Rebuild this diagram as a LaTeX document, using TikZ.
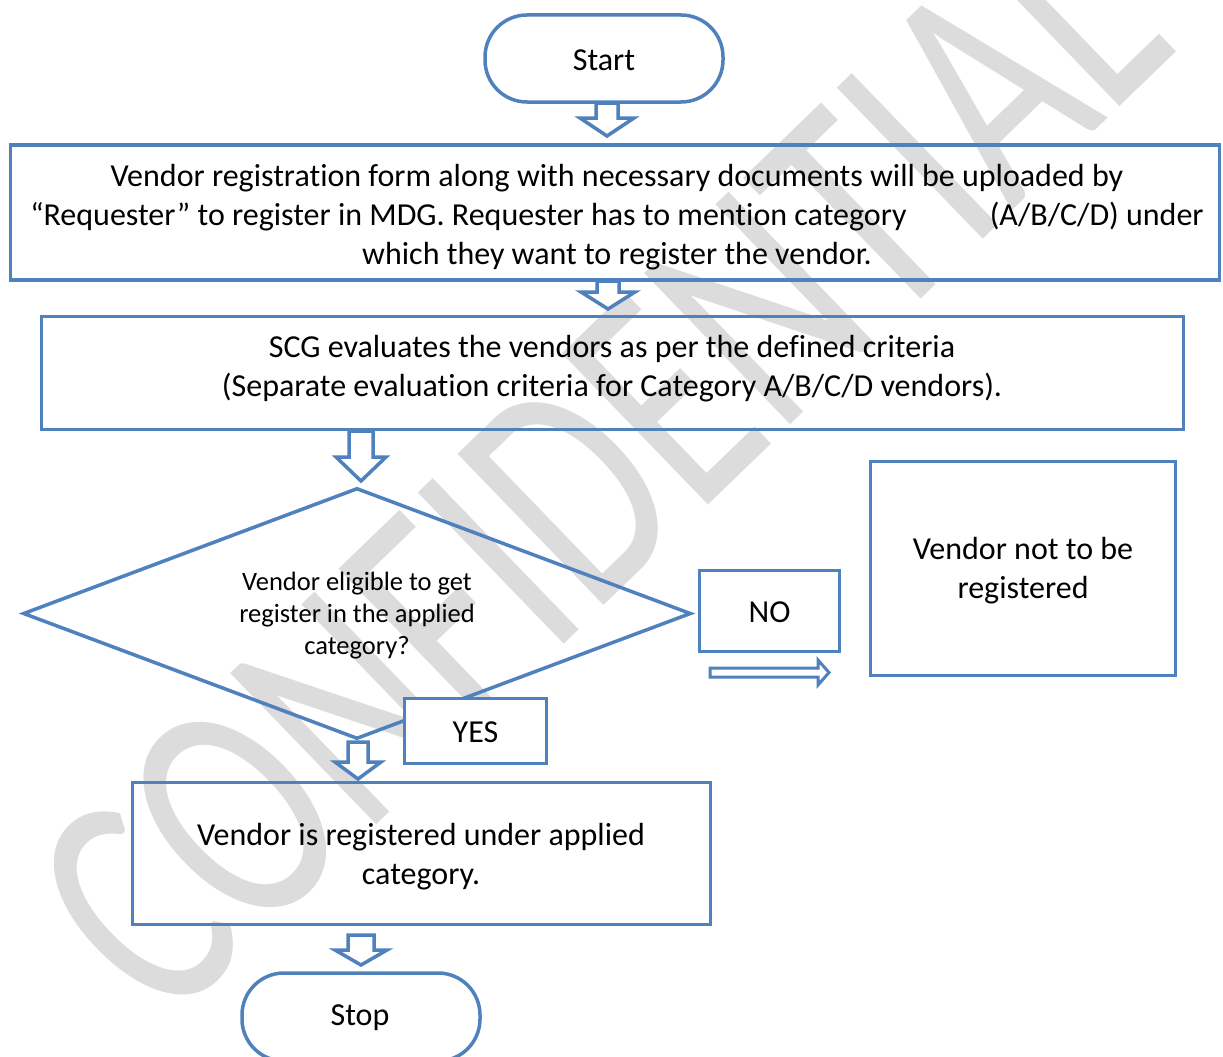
\documentclass[tikz,border=0pt]{standalone}
\usepackage{fontspec}
\setmainfont{Carlito}[Ligatures={NoCommon}]
\usetikzlibrary{shapes.geometric}
\definecolor{bc}{RGB}{79,129,189}
\definecolor{wm}{RGB}{220,220,220}
\tikzset{
  boxline/.style={draw=bc, line width=3.5pt},
  procbox/.style={boxline, rectangle, inner sep=0pt},
  termbox/.style={procbox, rounded corners=42pt},
  bigtext/.style={align=center, inner sep=0pt, font=\fontsize{32}{39}\selectfont},
  smalltext/.style={align=center, inner sep=0pt, font=\fontsize{26.5}{32}\selectfont},
  blockarr/.style={draw=bc, line width=3.5pt, fill=white, line join=miter},
  thinarr/.style={draw=bc, line width=3pt, fill=white, line join=miter},
}
\newcommand\dnarr[6]{% x, ytop, headstart, tip, shafthalf, headhalf
  \draw[blockarr] (#1-#5,#2) -- (#1-#5,#3) -- (#1-#6,#3) -- (#1,#4) -- (#1+#6,#3) -- (#1+#5,#3) -- (#1+#5,#2) -- cycle;}
\begin{document}
\begin{tikzpicture}[x=1pt,y=-1pt]
\useasboundingbox (0,0) rectangle (1223,1057);
\fill[white] (0,0) rectangle (1223,1057);
% watermark
\node[text=wm, rotate=44, inner sep=0pt, font=\fontsize{234}{234}\selectfont] (wmark) at (599,464) {\scalebox{1}[1.4]{CONFIDENTIAL}};
% terminals
\node[termbox, minimum width=238pt, minimum height=87pt] (start) at (604,58.5) {};
\node[bigtext] (tstart) at (604,60) {Start};
\node[termbox, minimum width=238pt, minimum height=88pt] (stop) at (361,1017) {};
\node[bigtext] (tstop) at (360,1018) {Stop};
% process boxes
\node[procbox, minimum width=1209pt, minimum height=135pt] (b1) at (615,212.5) {};
\node[bigtext] (t1) at (617,217) {Vendor registration form along with necessary documents will be uploaded by\\
“Requester” to register in MDG. Requester has to mention category\hspace{76pt} (A/B/C/D) under\\
which they want to register the vendor.};
\node[procbox, minimum width=1142pt, minimum height=113pt] (b2) at (612.5,373) {};
\node[bigtext] (t2) at (612,368.5) {SCG evaluates the vendors as per the defined criteria\\
(Separate evaluation criteria for Category A/B/C/D vendors).};
\node[diamond, draw=bc, line width=3.5pt, inner sep=0pt, minimum width=668pt, minimum height=251pt] (dec) at (357,613.5) {};
\node[smalltext] (tdec) at (357,616) {Vendor eligible to get\\register in the applied\\category?};
\node[procbox, minimum width=140pt, minimum height=81pt] (no) at (769.5,611) {};
\node[bigtext] (tno) at (769.5,612) {NO};
\node[procbox, minimum width=305pt, minimum height=214pt] (notreg) at (1023,568.5) {};
\node[bigtext] (tnotreg) at (1023,570.5) {Vendor not to be\\registered};
\node[procbox, fill=white, minimum width=142pt, minimum height=65pt] (yes) at (475.5,731) {};
\node[bigtext] (tyes) at (475.5,732) {YES};
\node[procbox, minimum width=578pt, minimum height=142pt] (b3) at (421.5,853.5) {};
\node[bigtext] (t3) at (421,856.5) {Vendor is registered under applied\\category.};
% block arrows
\dnarr{607}{103}{118}{136}{11}{27}
\dnarr{608}{281}{292}{309}{11}{27}
\dnarr{361}{431}{457}{481}{12}{25}
\dnarr{358}{742}{762}{779}{10}{23}
\dnarr{361}{935}{950}{965}{13}{26}
% NO arrow
\draw[thinarr] (710,668) -- (818,668) -- (818,660) -- (829,672.5) -- (818,685) -- (818,677) -- (710,677) -- cycle;
\end{tikzpicture}
\end{document}
